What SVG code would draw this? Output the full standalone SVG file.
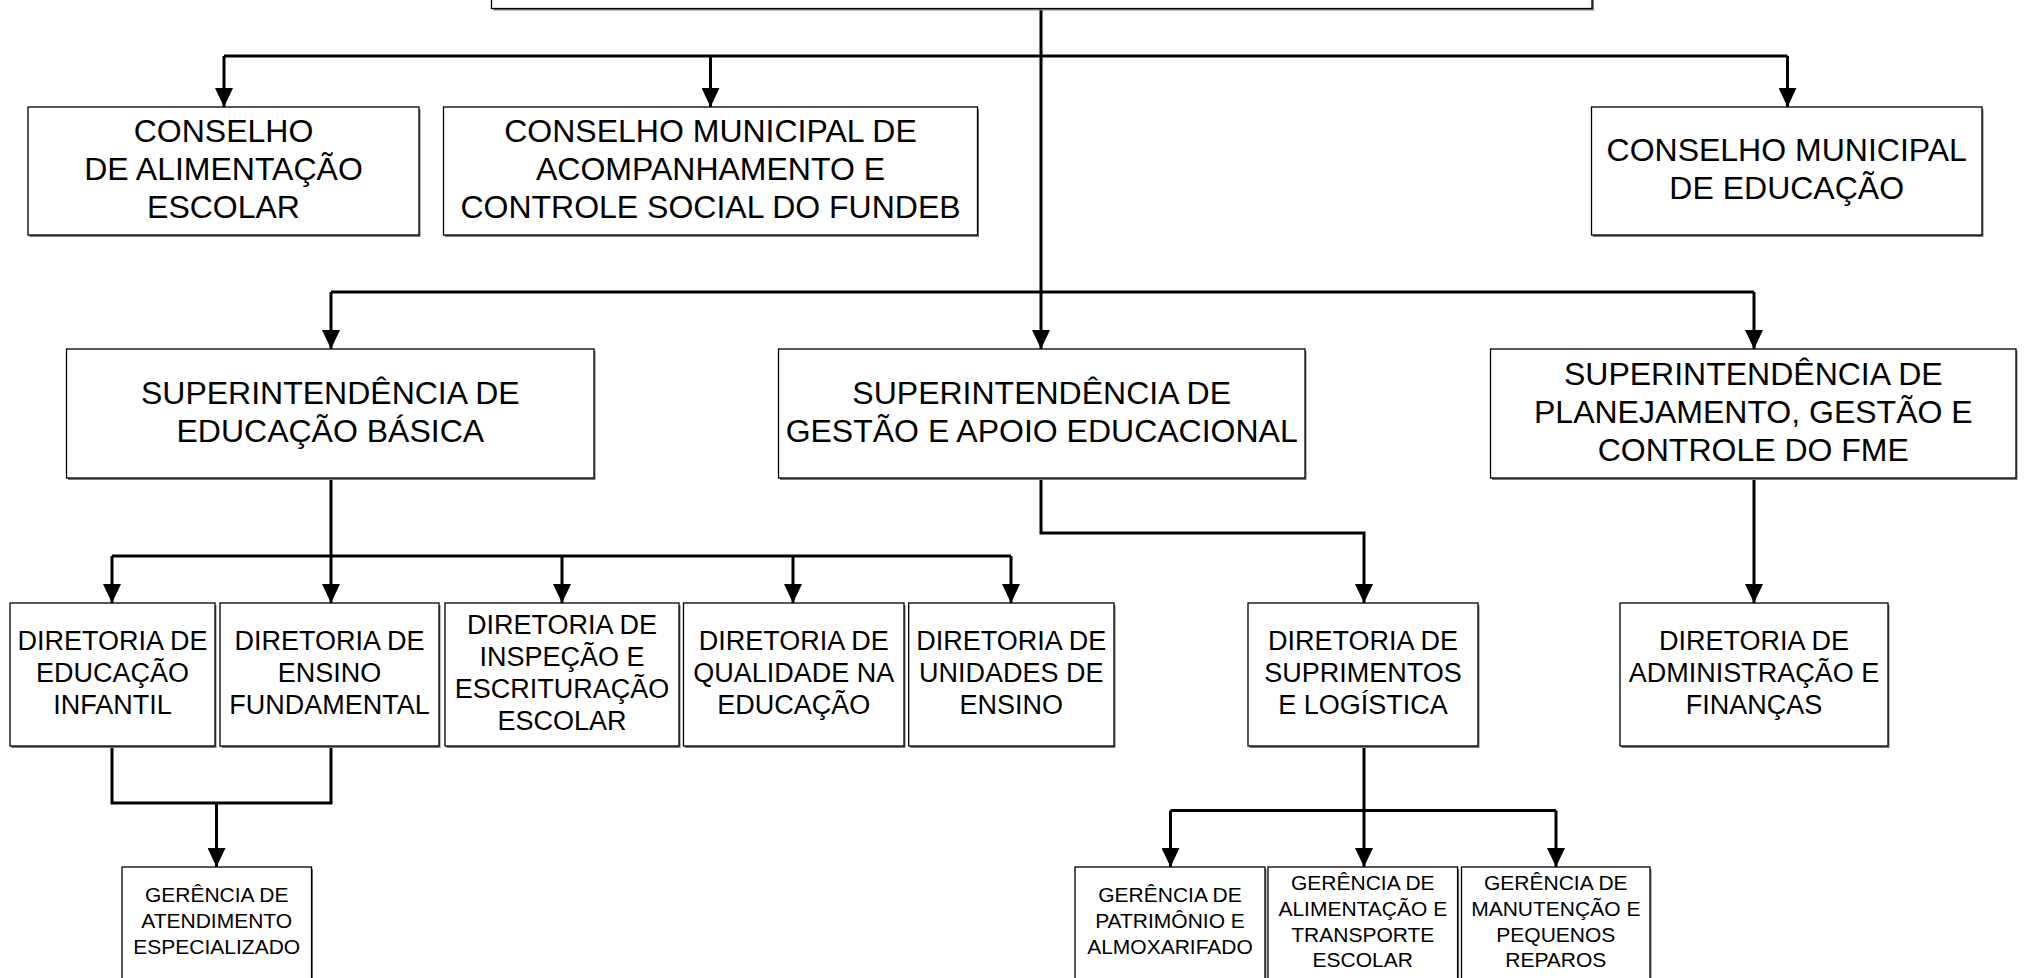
<svg xmlns="http://www.w3.org/2000/svg" width="2028" height="978" viewBox="0 0 2028 978">
<defs>
<marker id="arr" markerUnits="userSpaceOnUse" viewBox="0 0 19 18" refX="19" refY="9" markerWidth="19" markerHeight="18" orient="auto">
<path d="M0,0 L19,9 L0,18 z" fill="#000"/>
</marker>
<style>
.box{fill:#fff;stroke:#000;stroke-width:1.3}
.sh{fill:#7a7a7a}
.conn{fill:none;stroke:#000;stroke-width:3;stroke-linejoin:miter}
.arr{marker-end:url(#arr)}
text{font-family:"Liberation Sans",Arial,sans-serif;text-anchor:middle;fill:#000}
.big{font-size:32px}
.mid{font-size:27px}
.sm{font-size:21px}
</style>
</defs>
<rect width="2028" height="978" fill="#fff"/>

<g id="connectors">
<path class="conn" d="M1041,9 V292"/>
<path class="conn" d="M224,56 H1787.5"/>
<path class="conn arr" d="M224,56 V107"/>
<path class="conn arr" d="M710.5,56 V107"/>
<path class="conn arr" d="M1787.5,56 V107"/>
<path class="conn" d="M331,292 H1754"/>
<path class="conn arr" d="M331,292 V349"/>
<path class="conn arr" d="M1041,292 V349"/>
<path class="conn arr" d="M1754,292 V349"/>
<path class="conn" d="M331,478 V556"/>
<path class="conn" d="M112,556 H1011"/>
<path class="conn arr" d="M112,556 V603"/>
<path class="conn arr" d="M331,556 V603"/>
<path class="conn arr" d="M562,556 V603"/>
<path class="conn arr" d="M793,556 V603"/>
<path class="conn arr" d="M1011,556 V603"/>
<path class="conn arr" d="M1041,478 V533 H1364 V603"/>
<path class="conn arr" d="M1754,478 V603"/>
<path class="conn" d="M112,746 V803 H331 V746"/>
<path class="conn arr" d="M216.5,803 V867"/>
<path class="conn" d="M1364,746 V810.5"/>
<path class="conn" d="M1170.5,810.5 H1556"/>
<path class="conn arr" d="M1170.5,810.5 V867"/>
<path class="conn arr" d="M1364,810.5 V867"/>
<path class="conn arr" d="M1556,810.5 V867"/>
</g>

<g id="topo">
<rect class="sh" x="493.5" y="-40" width="1100.5" height="50.5"/>
<rect class="box" x="491.5" y="-42" width="1100.5" height="50.5"/>
</g>

<g id="cae">
<rect class="sh" x="29.5" y="109" width="391" height="128"/>
<rect class="box" x="28" y="107" width="391" height="128"/>
<text class="big"><tspan x="223.5" y="142">CONSELHO</tspan><tspan x="223.5" y="180">DE ALIMENTAÇÃO</tspan><tspan x="223.5" y="218">ESCOLAR</tspan></text>
</g>

<g id="cacs">
<rect class="sh" x="445" y="109" width="534" height="128"/>
<rect class="box" x="443.5" y="107" width="534" height="128"/>
<text class="big"><tspan x="710.5" y="142">CONSELHO MUNICIPAL DE</tspan><tspan x="710.5" y="180">ACOMPANHAMENTO E</tspan><tspan x="710.5" y="218">CONTROLE SOCIAL DO FUNDEB</tspan></text>
</g>

<g id="cme">
<rect class="sh" x="1593" y="109" width="390.5" height="128"/>
<rect class="box" x="1591.5" y="107" width="390.5" height="128"/>
<text class="big"><tspan x="1786.7" y="161">CONSELHO MUNICIPAL</tspan><tspan x="1786.7" y="199">DE EDUCAÇÃO</tspan></text>
</g>

<g id="seb">
<rect class="sh" x="68" y="351" width="527.5" height="129"/>
<rect class="box" x="66.5" y="349" width="527.5" height="129"/>
<text class="big"><tspan x="330.3" y="403.5">SUPERINTENDÊNCIA DE</tspan><tspan x="330.3" y="441.5">EDUCAÇÃO BÁSICA</tspan></text>
</g>

<g id="sgae">
<rect class="sh" x="780" y="351" width="526.5" height="129"/>
<rect class="box" x="778.5" y="349" width="526.5" height="129"/>
<text class="big"><tspan x="1041.7" y="403.5">SUPERINTENDÊNCIA DE</tspan><tspan x="1041.7" y="441.5">GESTÃO E APOIO EDUCACIONAL</tspan></text>
</g>

<g id="spgc">
<rect class="sh" x="1492" y="351" width="525.5" height="129"/>
<rect class="box" x="1490.5" y="349" width="525.5" height="129"/>
<text class="big"><tspan x="1753.3" y="384.5">SUPERINTENDÊNCIA DE</tspan><tspan x="1753.3" y="422.5">PLANEJAMENTO, GESTÃO E</tspan><tspan x="1753.3" y="460.5">CONTROLE DO FME</tspan></text>
</g>

<g id="dei">
<rect class="sh" x="11.5" y="605" width="205" height="143"/>
<rect class="box" x="10" y="603" width="205" height="143"/>
<text class="mid"><tspan x="112.5" y="649.5">DIRETORIA DE</tspan><tspan x="112.5" y="681.5">EDUCAÇÃO</tspan><tspan x="112.5" y="713.5">INFANTIL</tspan></text>
</g>

<g id="def">
<rect class="sh" x="221.5" y="605" width="219" height="143"/>
<rect class="box" x="220" y="603" width="219" height="143"/>
<text class="mid"><tspan x="329.5" y="649.5">DIRETORIA DE</tspan><tspan x="329.5" y="681.5">ENSINO</tspan><tspan x="329.5" y="713.5">FUNDAMENTAL</tspan></text>
</g>

<g id="diee">
<rect class="sh" x="446.5" y="605" width="234" height="143"/>
<rect class="box" x="445" y="603" width="234" height="143"/>
<text class="mid"><tspan x="562" y="633.5">DIRETORIA DE</tspan><tspan x="562" y="665.5">INSPEÇÃO E</tspan><tspan x="562" y="697.5">ESCRITURAÇÃO</tspan><tspan x="562" y="729.5">ESCOLAR</tspan></text>
</g>

<g id="dqe">
<rect class="sh" x="685" y="605" width="220.5" height="143"/>
<rect class="box" x="683.5" y="603" width="220.5" height="143"/>
<text class="mid"><tspan x="793.7" y="649.5">DIRETORIA DE</tspan><tspan x="793.7" y="681.5">QUALIDADE NA</tspan><tspan x="793.7" y="713.5">EDUCAÇÃO</tspan></text>
</g>

<g id="due">
<rect class="sh" x="910.2" y="605" width="205.3" height="143"/>
<rect class="box" x="908.7" y="603" width="205.3" height="143"/>
<text class="mid"><tspan x="1011.3" y="649.5">DIRETORIA DE</tspan><tspan x="1011.3" y="681.5">UNIDADES DE</tspan><tspan x="1011.3" y="713.5">ENSINO</tspan></text>
</g>

<g id="dsl">
<rect class="sh" x="1249.5" y="605" width="230" height="143"/>
<rect class="box" x="1248" y="603" width="230" height="143"/>
<text class="mid"><tspan x="1363" y="649.5">DIRETORIA DE</tspan><tspan x="1363" y="681.5">SUPRIMENTOS</tspan><tspan x="1363" y="713.5">E LOGÍSTICA</tspan></text>
</g>

<g id="daf">
<rect class="sh" x="1621.5" y="605" width="268" height="143"/>
<rect class="box" x="1620" y="603" width="268" height="143"/>
<text class="mid"><tspan x="1754" y="649.5">DIRETORIA DE</tspan><tspan x="1754" y="681.5">ADMINISTRAÇÃO E</tspan><tspan x="1754" y="713.5">FINANÇAS</tspan></text>
</g>

<g id="gae">
<rect class="sh" x="123.5" y="869" width="189.5" height="140"/>
<rect class="box" x="122" y="867" width="189.5" height="140"/>
<text class="sm"><tspan x="216.7" y="901.5">GERÊNCIA DE</tspan><tspan x="216.7" y="927.5">ATENDIMENTO</tspan><tspan x="216.7" y="954">ESPECIALIZADO</tspan></text>
</g>

<g id="gpa">
<rect class="sh" x="1076.5" y="869" width="190" height="140"/>
<rect class="box" x="1075" y="867" width="190" height="140"/>
<text class="sm"><tspan x="1170" y="901.5">GERÊNCIA DE</tspan><tspan x="1170" y="927.5">PATRIMÔNIO E</tspan><tspan x="1170" y="954">ALMOXARIFADO</tspan></text>
</g>

<g id="gate">
<rect class="sh" x="1269.5" y="869" width="189.6" height="140"/>
<rect class="box" x="1268" y="867" width="189.6" height="140"/>
<text class="sm"><tspan x="1362.8" y="890">GERÊNCIA DE</tspan><tspan x="1362.8" y="916">ALIMENTAÇÃO E</tspan><tspan x="1362.8" y="941.5">TRANSPORTE</tspan><tspan x="1362.8" y="967">ESCOLAR</tspan></text>
</g>

<g id="gmpr">
<rect class="sh" x="1463" y="869" width="188.5" height="140"/>
<rect class="box" x="1461.5" y="867" width="188.5" height="140"/>
<text class="sm"><tspan x="1555.8" y="890">GERÊNCIA DE</tspan><tspan x="1555.8" y="916">MANUTENÇÃO E</tspan><tspan x="1555.8" y="941.5">PEQUENOS</tspan><tspan x="1555.8" y="967">REPAROS</tspan></text>
</g>
</svg>
